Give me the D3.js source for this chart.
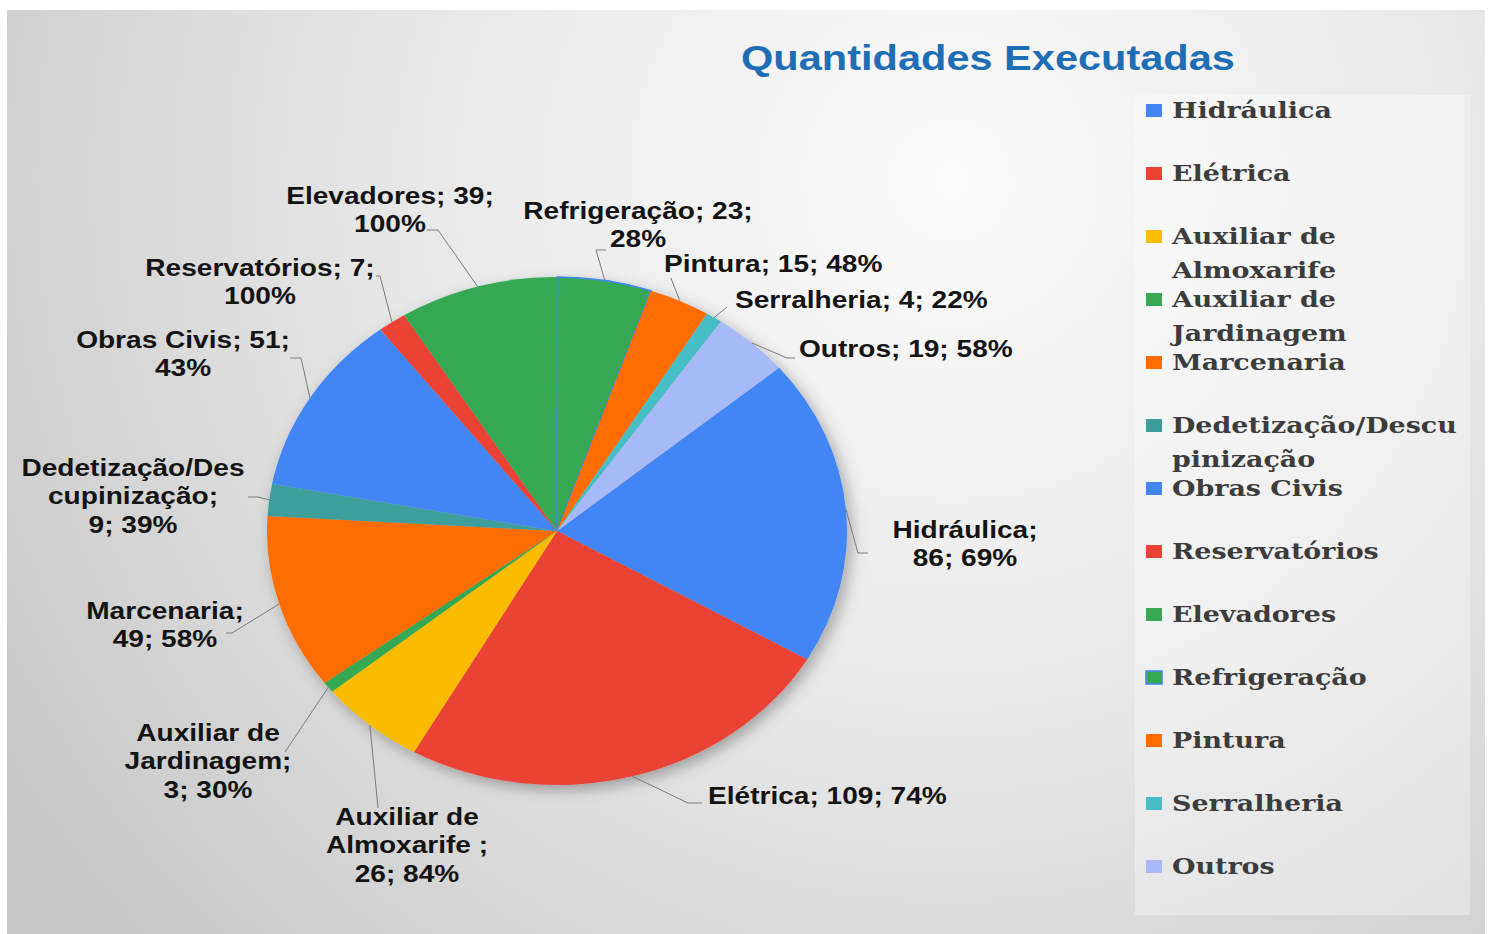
<!DOCTYPE html>
<html>
<head>
<script src="https://d3js.org/d3.v7.min.js"></script>
<style>
  body { margin: 0; background: #fff; }
  svg { display: block; }
  .lbl { font-family: "Liberation Sans", Arial, sans-serif; font-weight: bold; font-size: 24px; fill: #141414; }
  .leg { font-family: "DejaVu Serif", serif; font-weight: bold; font-size: 23px; fill: #3c3c3c; }
</style>
</head>
<body>
<script>
// data
var categories = ["Hidráulica", "Elétrica", "Auxiliar de Almoxarife", "Auxiliar de Jardinagem", "Marcenaria",
  "Dedetização/Descupinização", "Obras Civis", "Reservatórios", "Elevadores", "Refrigeração",
  "Pintura", "Serralheria", "Outros"];
var values = [86, 109, 26, 3, 49, 9, 51, 7, 39, 23, 15, 4, 19];
var percents = ["69%", "74%", "84%", "30%", "58%", "39%", "43%", "100%", "100%", "28%", "48%", "22%", "58%"];
var colors = ["#4285F4", "#EA4335", "#FBBC04", "#34A853", "#FF6D01", "#3C9E9C", "#4285F4",
  "#EA4335", "#34A853", "#34A853", "#FF6D01", "#46BDC6", "#A7B9F6"];
// legend wraps as in the picture
var legendLines = [["Hidráulica"], ["Elétrica"], ["Auxiliar de", "Almoxarife"], ["Auxiliar de", "Jardinagem"],
  ["Marcenaria"], ["Dedetização/Descu", "pinização"], ["Obras Civis"], ["Reservatórios"], ["Elevadores"],
  ["Refrigeração"], ["Pintura"], ["Serralheria"], ["Outros"]];
// data label text as it wraps in the picture
var labelLines = [
  ["Hidráulica;", "86; 69%"],
  ["Elétrica; 109; 74%"],
  ["Auxiliar de", "Almoxarife ;", "26; 84%"],
  ["Auxiliar de", "Jardinagem;", "3; 30%"],
  ["Marcenaria;", "49; 58%"],
  ["Dedetização/Des", "cupinização;", "9; 39%"],
  ["Obras Civis; 51;", "43%"],
  ["Reservatórios; 7;", "100%"],
  ["Elevadores; 39;", "100%"],
  ["Refrigeração; 23;", "28%"],
  ["Pintura; 15; 48%"],
  ["Serralheria; 4; 22%"],
  ["Outros; 19; 58%"]
];
// label placement: x, y of first line middle, anchor, leader elbow points
var labelPos = [
  {x: 965, y: 530, a: "middle", pts: [[858, 553], [868, 553]]},
  {x: 708, y: 796, a: "start", pts: [[688, 803], [702, 803]]},
  {x: 407, y: 817, a: "middle", pts: [[378, 808]]},
  {x: 208, y: 733, a: "middle", pts: [[285, 752]]},
  {x: 165, y: 611, a: "middle", pts: [[232, 633], [226, 633]]},
  {x: 133, y: 468, a: "middle", pts: [[258, 497], [248, 497]]},
  {x: 183, y: 340, a: "middle", pts: [[301, 358], [290, 358]]},
  {x: 260, y: 268, a: "middle", pts: [[380, 276], [376, 276]]},
  {x: 390, y: 196, a: "middle", pts: [[438, 230], [427, 230]]},
  {x: 638, y: 211, a: "middle", pts: [[596, 250], [606, 250]]},
  {x: 664, y: 264, a: "start", pts: [[671, 278]]},
  {x: 735, y: 300, a: "start", pts: [[727, 307]]},
  {x: 799, y: 349, a: "start", pts: [[787, 358], [795, 358]]}
];

var W = 1491, H = 934;
var cx = 557, cy = 531, ry = 254, rx = 290, sx = rx / ry, tx = 1.17;

var svg = d3.select("body").append("svg").attr("width", W).attr("height", H);
var defs = svg.append("defs");
var grad = defs.append("radialGradient").attr("id", "bg").attr("gradientUnits", "userSpaceOnUse")
  .attr("cx", 950).attr("cy", 180).attr("r", 1150);
grad.append("stop").attr("offset", 0).attr("stop-color", "#fbfbfb");
grad.append("stop").attr("offset", 0.45).attr("stop-color", "#e9e9e9");
grad.append("stop").attr("offset", 0.8).attr("stop-color", "#d3d3d3");
grad.append("stop").attr("offset", 1).attr("stop-color", "#c6c6c6");
var f = defs.append("filter").attr("id", "sh").attr("x", "-20%").attr("y", "-20%").attr("width", "140%").attr("height", "140%");
f.append("feDropShadow").attr("dx", 4).attr("dy", 5).attr("stdDeviation", 7)
  .attr("flood-color", "#000").attr("flood-opacity", 0.3);

svg.append("rect").attr("x", 7).attr("y", 10).attr("width", 1478).attr("height", 924).attr("fill", "url(#bg)");

// title
svg.append("text").attr("transform", "translate(988,70) scale(" + tx + ",1)")
  .attr("text-anchor", "middle")
  .style("font-family", "'Liberation Sans', Arial, sans-serif").style("font-weight", "bold")
  .style("font-size", "35.5px").style("fill", "#1F6DB5")
  .text("Quantidades Executadas");

// pie
var start = 50 * Math.PI / 180;
var pie = d3.pie().sort(null).startAngle(start).endAngle(start + 2 * Math.PI).value(function (d) { return d; });
var arcs = pie(values);
var arc = d3.arc().innerRadius(0).outerRadius(ry);

var pg = svg.append("g").attr("transform", "translate(" + cx + "," + cy + ") scale(" + sx + ",1)")
  .attr("filter", "url(#sh)");
pg.selectAll("path").data(arcs).enter().append("path")
  .attr("d", arc)
  .attr("fill", function (d, i) { return colors[i]; })
  .attr("stroke", function (d, i) { return categories[i] === "Refrigeração" ? "#4285F4" : "none"; })
  .attr("stroke-width", 1.5)
  .attr("vector-effect", "non-scaling-stroke");

// leader lines
var line = d3.line();
svg.append("g").selectAll("path").data(arcs).enter().append("path")
  .attr("d", function (d, i) {
    var p = d3.pointRadial((d.startAngle + d.endAngle) / 2, ry);
    var s = [cx + p[0] * sx, cy + p[1]];
    return line([s].concat(labelPos[i].pts));
  })
  .attr("fill", "none").attr("stroke", "#7a7a7a").attr("stroke-width", 1);

// data labels
var lg = svg.append("g");
labelLines.forEach(function (lines, i) {
  var p = labelPos[i];
  var t = lg.append("text").attr("class", "lbl").attr("text-anchor", p.a)
    .attr("transform", "translate(" + p.x + "," + (p.y + 8) + ") scale(" + tx + ",1)");
  lines.forEach(function (s, j) {
    t.append("tspan").attr("x", 0).attr("y", j * 28.5).text(s);
  });
});

// legend
var lx = 1135, ly = 95;
svg.append("rect").attr("x", lx).attr("y", ly).attr("width", 335).attr("height", 820)
  .attr("fill", "#ffffff").attr("fill-opacity", 0.32);
var leg = svg.append("g").selectAll("g").data(categories).enter().append("g")
  .attr("transform", function (d, i) { return "translate(1146," + (110 + 63 * i) + ")"; });
leg.append("rect").attr("x", 0).attr("y", -6).attr("width", 16).attr("height", 13)
  .attr("fill", function (d, i) { return colors[i]; })
  .attr("stroke", function (d) { return d === "Refrigeração" ? "#4285F4" : "none"; })
  .attr("stroke-width", 1.5);
leg.append("text").attr("class", "leg")
  .attr("transform", "translate(26,8) scale(" + tx + ",1)")
  .each(function (d, i) {
    var t = d3.select(this);
    legendLines[i].forEach(function (s, j) {
      t.append("tspan").attr("x", 0).attr("y", j * 34).text(s);
    });
  });
</script>
</body>
</html>
